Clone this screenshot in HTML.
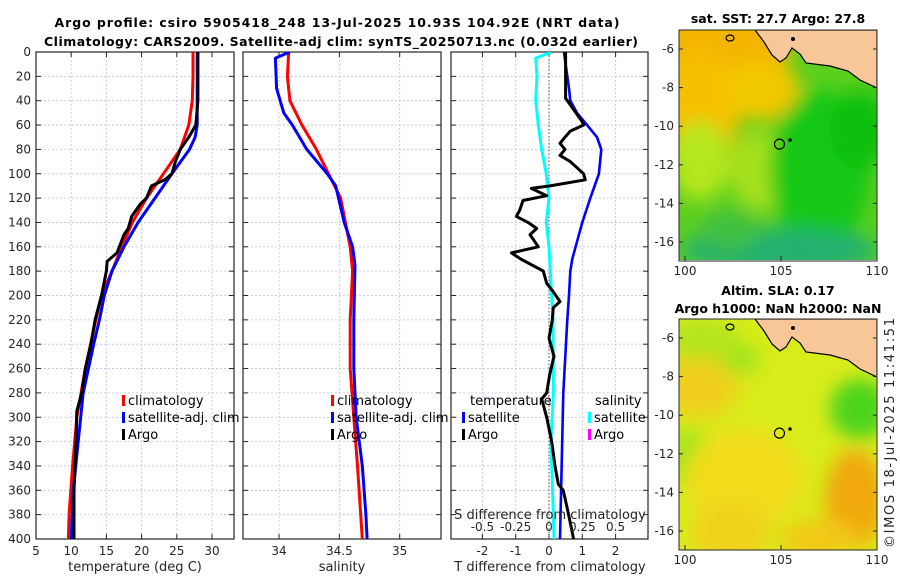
<!DOCTYPE html>
<html><head><meta charset="utf-8">
<style>
html,body{margin:0;padding:0;background:#fff;}
svg{display:block;font-family:"DejaVu Sans","Liberation Sans",sans-serif;}
.tick{font-size:12px;fill:#262626;}
.lab{font-size:13px;fill:#262626;}
.ttl{font-size:12.5px;font-weight:bold;fill:#000;}
.leg{font-size:13px;fill:#000;}
</style></head>
<body>
<svg id="fig" width="900" height="580" viewBox="0 0 900 580">
<defs>
<filter id="blur1" x="-20%" y="-20%" width="140%" height="140%"><feGaussianBlur stdDeviation="9"/></filter>
<clipPath id="clipT"><rect x="36" y="52" width="198" height="487"/></clipPath>
<clipPath id="clipS"><rect x="243" y="52" width="198" height="487"/></clipPath>
<clipPath id="clipD"><rect x="451" y="52" width="197" height="487"/></clipPath>
<clipPath id="clipM1"><rect x="679" y="30" width="198" height="230"/></clipPath>
<clipPath id="clipM2"><rect x="679" y="319" width="198" height="231"/></clipPath>
</defs>
<text class="ttl" x="337" y="27" text-anchor="middle" textLength="565">Argo profile: csiro 5905418_248 13-Jul-2025 10.93S 104.92E (NRT data)</text>
<text class="ttl" x="341" y="46" text-anchor="middle" textLength="594">Climatology: CARS2009. Satellite-adj clim: synTS_20250713.nc (0.032d earlier)</text>
<g id="panels"></g>
<g id="maps"></g>
<text x="894" y="548" transform="rotate(-90 894 548)" font-size="13" fill="#262626" textLength="230">©IMOS 18-Jul-2025 11:41:51</text>
</svg>
<script>
// ---------- data ----------
const depthTicks = [0,20,40,60,80,100,120,140,160,180,200,220,240,260,280,300,320,340,360,380,400];
const tempTicks = [5,10,15,20,25,30];
const salTicks = [34,34.5,35];
const salTickLabels = ["34","34.5","35"];
const tdiffTicks = [-2,-1,0,1,2];
const sdiffTicks = [-0.5,-0.25,0,0.25,0.5];
const sdiffTickLabels = ["-0.5","-0.25","0","0.25","0.5"];

const climDepth = [0,20,40,60,80,100,120,140,160,180,200,220,260,300,340,380,400];
const climTemp  = [27.3,27.3,27.2,26.7,25.5,23.1,20.7,18.7,17.2,15.8,14.3,13.5,12.0,10.8,10.2,9.7,9.6];
const satDepth  = [0,60,70,80,100,120,140,160,180,200,220,240,280,320,360,400];
const satTemp   = [27.9,27.9,27.6,26.8,24.3,21.9,19.5,17.5,15.8,14.7,14.0,13.2,11.7,11.0,10.3,10.0];
const argoDepth = [0,40,60,70,80,90,100,105,110,120,125,135,145,150,165,172,180,200,220,240,260,280,295,320,360,380,400];
const argoTemp  = [28.0,28.0,27.7,26.7,25.5,24.8,24.3,23.3,21.4,20.7,19.8,18.6,18.1,17.5,16.5,15.1,15.0,14.3,13.4,12.8,12.0,11.5,10.8,10.7,10.4,10.4,10.4];

const climSalDepth = [0,20,40,60,80,100,120,140,160,180,220,260,300,340,400];
const climSal      = [34.08,34.07,34.09,34.19,34.31,34.41,34.51,34.55,34.59,34.61,34.59,34.59,34.62,34.65,34.69];
const satSalDepth  = [0,5,30,50,60,80,100,110,140,160,175,220,260,300,340,380,400];
const satSal       = [34.09,33.97,33.98,34.04,34.11,34.23,34.40,34.47,34.54,34.61,34.63,34.62,34.62,34.64,34.69,34.72,34.73];

const dSatTDepth = [0,10,30,40,50,60,70,80,100,120,140,160,170,180,200,220,280,400];
const dSatT      = [0.45,0.5,0.6,0.64,0.84,1.14,1.44,1.57,1.5,1.24,1.0,0.8,0.7,0.64,0.6,0.55,0.43,0.33];
const dSatSDepth = [0,5,20,40,60,80,100,120,140,160,180,200,220,280,320,400];
const dSatS      = [0.02,-0.1,-0.09,-0.1,-0.08,-0.055,-0.02,0,-0.02,0,0.01,0.02,0.03,0.033,0.015,0.038];
const dArgoTDepth = [0,38,57,60,65,70,75,80,85,90,95,100,105,110,112,118,122,130,135,140,145,150,160,165,170,180,190,197,205,210,220,235,250,265,280,285,300,320,340,355,360,380,400];
const dArgoT      = [0.5,0.5,0.99,1.04,0.64,0.48,0.33,0.48,0.33,0.64,0.84,1.04,1.09,0.03,-0.53,-0.07,-0.78,-0.88,-0.98,-0.63,-0.37,-0.57,-0.32,-1.13,-0.85,-0.17,-0.07,0.13,0.33,0.13,0.1,0.0,0.15,0.02,-0.07,-0.22,-0.07,0.08,0.18,0.28,0.43,0.59,0.74];

// ---------- helpers ----------
const NS = "http://www.w3.org/2000/svg";
const fig = document.getElementById('panels');
function el(tag, attrs, parent){ const e=document.createElementNS(NS,tag); for(const k in attrs) e.setAttribute(k,attrs[k]); (parent||fig).appendChild(e); return e; }
const Y0=52, Y1=539;
const yD = d => Y0 + d*(Y1-Y0)/400;
function linScale(d0,d1,r0,r1){ return v => r0 + (v-d0)*(r1-r0)/(d1-d0); }

function frame(x0,x1,xs,ticks,labels,name,showDepthLabels){
  const g = el('g',{});
  
  
  depthTicks.forEach(d=>{
    const y=yD(d);
    el('line',{x1:x0,x2:x1,y1:y,y2:y,stroke:'#b8c4e0','stroke-width':0.8,'stroke-dasharray':'2,2'},g);
    el('line',{x1:x0,x2:x0+5,y1:y,y2:y,stroke:'#262626','stroke-width':1},g);
    el('line',{x1:x1-5,x2:x1,y1:y,y2:y,stroke:'#262626','stroke-width':1},g);
    if(showDepthLabels){ const t=el('text',{x:x0-5,y:y+4,'text-anchor':'end',class:'tick'},g); t.textContent=d;
        }
  });
  ticks.forEach((v,i)=>{
    const x=xs(v);
    el('line',{x1:x,x2:x,y1:Y0,y2:Y1,stroke:'#b8c4e0','stroke-width':0.8,'stroke-dasharray':'2,2'},g);
    el('line',{x1:x,x2:x,y1:Y1,y2:Y1-5,stroke:'#262626','stroke-width':1},g);
    el('line',{x1:x,x2:x,y1:Y0,y2:Y0+5,stroke:'#262626','stroke-width':1},g);
    const t=el('text',{x:x,y:Y1+16,'text-anchor':'middle',class:'tick'},g); t.textContent=labels?labels[i]:v;
     
  });
  el('rect',{x:x0,y:Y0,width:x1-x0,height:Y1-Y0,fill:'none',stroke:'#262626','stroke-width':1.2},g);
  return g;
}
function series(xs,depths,vals,color,clip,name,width){
  const p=el('polyline',{points:depths.map((d,i)=>xs(vals[i]).toFixed(1)+','+yD(d).toFixed(1)).join(' '),fill:'none',stroke:color,'stroke-width':width||3,'stroke-linejoin':'round','clip-path':'url(#'+clip+')'});
  
  
  return p;
}
function text(x,y,s,cls,anchor,name){
  const t=el('text',{x:x,y:y,class:cls,'text-anchor':anchor||'start'}); t.textContent=s;
  
  
  return t;
}
function legendEntry(x,y,color,label,name){
  const g=el('g',{});
  
  
  el('rect',{x:x,y:y-10,width:3,height:11,fill:color},g);
  const t=el('text',{x:x+6,y:y,class:'leg'},g); t.textContent=label;
  return g;
}

// ---------- temperature panel ----------
const xT = linScale(5,30,36,212);
frame(36,234,xT,tempTicks,null,'temperature-axes',true);
series(xT,climDepth,climTemp,'#ff0000','clipT','temp-climatology-line');
series(xT,satDepth,satTemp,'#0000ff','clipT','temp-satellite-line');
series(xT,argoDepth,argoTemp,'#000000','clipT','temp-argo-line');
text(135,571,'temperature (deg C)','lab','middle','temperature-axis-title');
legendEntry(122,405,'#ff0000','climatology','legend-climatology');
legendEntry(122,422,'#0000ff','satellite-adj. clim','legend-satellite-adj');
legendEntry(122,439,'#000000','Argo','legend-argo');

// ---------- salinity panel ----------
const xS = linScale(34,35,279,399.7);
frame(243,441,xS,salTicks,salTickLabels,'salinity-axes',false);
series(xS,climSalDepth,climSal,'#ff0000','clipS','sal-climatology-line');
series(xS,satSalDepth,satSal,'#0000ff','clipS','sal-satellite-line');
text(342,571,'salinity','lab','middle','salinity-axis-title');
legendEntry(331,405,'#ff0000','climatology','legend-sal-climatology');
legendEntry(331,422,'#0000ff','satellite-adj. clim','legend-sal-satellite-adj');
legendEntry(331,439,'#000000','Argo','legend-sal-argo');

// ---------- difference panel ----------
const xDT = linScale(0,1,549,582.3);
const xDS = linScale(0,0.25,549,582.3);
frame(451,648,xDT,tdiffTicks,null,'difference-axes',false);
el('line',{x1:xDT(0),x2:xDT(0),y1:Y0,y2:Y1,stroke:'#555','stroke-width':1,'stroke-dasharray':'1.5,2'});
series(xDS,dSatSDepth,dSatS,'#00ffff','clipD','sdiff-satellite-line');
series(xDT,dSatTDepth,dSatT,'#0000ff','clipD','tdiff-satellite-line',2.6);
series(xDT,dArgoTDepth,dArgoT,'#000000','clipD','tdiff-argo-line');
sdiffTicks.forEach((v,i)=>{ text(xDS(v),531,sdiffTickLabels[i],'tick','middle','sdiff-tick-label'); });
text(550,519,'S difference from climatology','lab','middle','sdiff-axis-title');
text(550,571,'T difference from climatology','lab','middle','tdiff-axis-title');
text(470,405,'temperature','leg','start','legend-temperature-heading');
text(595,405,'salinity','leg','start','legend-salinity-heading');
legendEntry(462,422,'#0000ff','satellite','legend-tdiff-satellite');
legendEntry(462,439,'#000000','Argo','legend-tdiff-argo');
legendEntry(588,422,'#00ffff','satellite','legend-sdiff-satellite');
legendEntry(588,439,'#ff00ff','Argo','legend-sdiff-argo');

// ---------- maps ----------
const latTicks = [-6,-8,-10,-12,-14,-16];
const lonTicks = [100,105,110];
const mg = document.getElementById('maps');
function map(top,name,base,blobs,clip,title,titleY){
  const g=el('g',{},mg);
  
  
  const lonX = linScale(100,110,685,877);
  const latY = linScale(-6,-16,top+19,top+212);
  const inner=el('g',{'clip-path':'url(#'+clip+')'},g);
  el('rect',{x:679,y:top,width:198,height:231,fill:base},inner);
  const bg=el('g',{filter:'url(#blur1)'},inner);
  blobs.forEach(b=>el('ellipse',{cx:b[0],cy:top+b[1],rx:b[2],ry:b[3],fill:b[4]},bg));
  const land=el('polygon',{points:[[755,0],[764,12],[772,25],[780,32],[786,28],[792,18],[800,24],[806,33],[830,36],[848,41],[860,50],[877,58],[877,0]].map(p=>p[0]+','+(top+p[1])).join(' '),fill:'#f7c699',stroke:'#000','stroke-width':1.2},inner);
  
  
  el('ellipse',{cx:730,cy:top+8,rx:4,ry:3,fill:'none',stroke:'#000','stroke-width':1.2},inner);
  el('circle',{cx:793,cy:top+9,r:2,fill:'#000'},inner);
  el('circle',{cx:790,cy:top+110,r:1.8,fill:'#000'},inner);
  const m=el('circle',{cx:lonX(104.92),cy:latY(-10.93),r:5,fill:'none',stroke:'#000','stroke-width':1.2},inner);
  
  
  el('rect',{x:679,y:top,width:198,height:231,fill:'none',stroke:'#262626','stroke-width':1},g);
  latTicks.forEach(v=>{ const y=latY(v);
    el('line',{x1:679,x2:683,y1:y,y2:y,stroke:'#262626'},g); el('line',{x1:873,x2:877,y1:y,y2:y,stroke:'#262626'},g);
    const t=el('text',{x:674,y:y+4,'text-anchor':'end',class:'tick'},g); t.textContent=v;
      });
  lonTicks.forEach(v=>{ const x=lonX(v);
    el('line',{x1:x,x2:x,y1:top+231,y2:top+226,stroke:'#262626'},g);
    const t=el('text',{x:x,y:top+245,'text-anchor':'middle',class:'tick'},g); t.textContent=v;
      });
  title.forEach((s,i)=>{ const t=el('text',{x:778,y:titleY[i],'text-anchor':'middle',class:'ttl'},g); t.textContent=s;
      });
}
map(30,'sst-map','#5ccf1e',[
  [720,20,70,60,'#f4b400'],[700,80,40,60,'#f6c000'],[760,60,40,30,'#f2c800'],
  [700,130,30,40,'#b6e61a'],[760,140,30,40,'#a6e01a'],
  [820,140,50,80,'#18c818'],[860,100,30,40,'#10c010'],[780,220,100,22,'#22b070'],[730,200,30,20,'#40c040']
],'clipM1',['sat. SST: 27.7 Argo: 27.8'],[23]);
map(319,'sla-map','#d8ec1a',[
  [690,140,25,30,'#a6e41e'],[700,60,40,40,'#f0d01a'],[745,160,60,50,'#f2dc1e'],
  [730,215,40,30,'#f0d21a'],[855,180,30,50,'#f0a810'],[820,220,40,20,'#f2c818'],
  [860,90,30,30,'#4ed41c'],[740,40,20,15,'#a0e41e'],[700,20,40,20,'#b4e41e']
],'clipM2',['Altim. SLA: 0.17','Argo h1000: NaN h2000: NaN'],[295,313]);
</script>
</body></html>
